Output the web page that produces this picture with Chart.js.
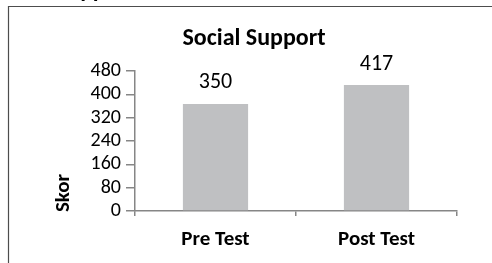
<!DOCTYPE html>
<html lang="en">
<head>
    <meta charset="UTF-8">
    <title>Social Support</title>
    <script src="https://cdn.jsdelivr.net/npm/chart.js"></script>
    <style>
        body { margin: 0; background: #fff; }
        canvas { display: block; }
    </style>
</head>
<body>
    <canvas id="supportChart" width="492" height="263"></canvas>

    <script>
        // Chart data
        const categories = ['Pre Test', 'Post Test'];
        const barHeights = [367, 432];       // bar tops as drawn in the picture
        const valueLabels = ['350', '417'];  // numbers printed above the bars
        const yMin = 0;
        const yMax = 480;
        const yStep = 80;

        const chartTitle = 'Social Support';
        const axisTitle = 'Skor';

        const FONT = 'Carlito, Lato, "Liberation Sans", sans-serif';
        const axisColor = '#868686';

        // extra drawing: frame, titles, value labels
        const decorations = {
            id: 'decorations',
            afterDraw(chart) {
                const ctx = chart.ctx;
                ctx.save();

                // heading above the frame, mostly cut off
                ctx.fillStyle = '#000';
                ctx.font = 'italic bold 24px ' + FONT;
                ctx.textAlign = 'left';
                ctx.textBaseline = 'alphabetic';
                ctx.fillText(chartTitle, -6, -3);

                // frame
                ctx.strokeStyle = '#4d4d4d';
                ctx.lineWidth = 1.2;
                ctx.beginPath();
                ctx.moveTo(8.5, 263);
                ctx.lineTo(8.5, 6.5);
                ctx.lineTo(492, 6.5);
                ctx.stroke();

                // chart title
                ctx.font = 'bold 24px ' + FONT;
                ctx.textAlign = 'center';
                ctx.textBaseline = 'middle';
                ctx.fillText(chartTitle, 254, 39);

                // y axis title
                ctx.save();
                ctx.translate(64, 193);
                ctx.rotate(-Math.PI / 2);
                ctx.font = 'bold 21px ' + FONT;
                ctx.fillText(axisTitle, 0, 0);
                ctx.restore();

                // value labels
                ctx.font = '22px ' + FONT;
                const meta = chart.getDatasetMeta(0);
                meta.data.forEach((bar, i) => {
                    ctx.fillText(valueLabels[i], bar.x, bar.y - 21);
                });

                ctx.restore();
            }
        };

        const ctx = document.getElementById('supportChart').getContext('2d');
        new Chart(ctx, {
            type: 'bar',
            data: {
                labels: categories,
                datasets: [{
                    data: barHeights,
                    backgroundColor: '#bfc0c2',
                    borderWidth: 0,
                    barPercentage: 0.405,
                    categoryPercentage: 1
                }]
            },
            options: {
                responsive: false,
                animation: false,
                layout: {
                    padding: { left: 0, top: 71, right: 35, bottom: 0 }
                },
                plugins: {
                    legend: { display: false },
                    tooltip: { enabled: false }
                },
                scales: {
                    x: {
                        afterFit(scale) { scale.height = 52; },
                        border: { color: axisColor, width: 1.5 },
                        grid: {
                            drawOnChartArea: false,
                            tickLength: 5,
                            color: axisColor,
                            lineWidth: 1.5
                        },
                        ticks: {
                            color: '#000',
                            padding: 11,
                            font: { family: FONT, size: 21, weight: 'bold' }
                        }
                    },
                    y: {
                        min: yMin,
                        max: yMax,
                        afterFit(scale) { scale.width = 135; },
                        border: { color: axisColor, width: 1.5 },
                        grid: {
                            drawOnChartArea: false,
                            tickLength: 9,
                            color: axisColor,
                            lineWidth: 1.5
                        },
                        ticks: {
                            stepSize: yStep,
                            autoSkip: false,
                            color: '#000',
                            padding: 5,
                            font: { family: FONT, size: 20 }
                        }
                    }
                }
            },
            plugins: [decorations]
        });
    </script>
</body>
</html>
